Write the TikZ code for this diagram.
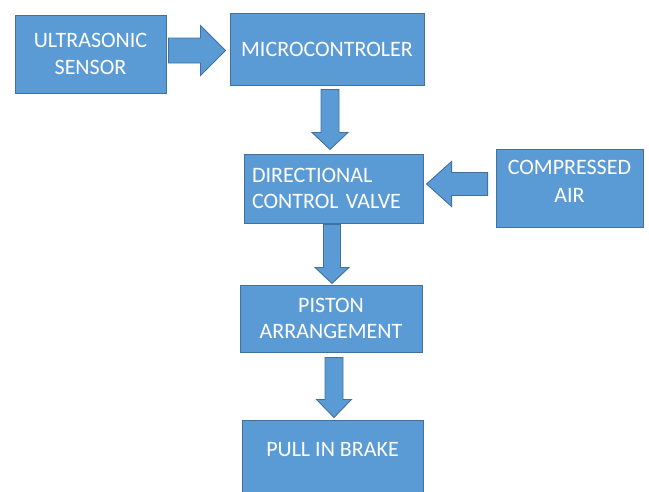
\documentclass[tikz,border=0pt]{standalone}
\usepackage{fontspec}
\setmainfont{Carlito}
\usetikzlibrary{calc}
\definecolor{boxfill}{HTML}{5B9BD5}
\definecolor{boxline}{HTML}{41719C}
\tikzset{
  box/.style={draw=boxline, fill=boxfill, line width=0.9pt, text=white,
    font=\fontsize{22}{26.5}\selectfont, align=center, inner sep=0pt},
  txt/.style={text=white, font=\fontsize{22}{27.5}\selectfont, align=center, inner sep=0pt},
  blk/.style={draw=boxline, fill=boxfill, line width=0.9pt, line join=miter}
}
% #1 start coordinate, #2 angle, #3 length, #4 shaft half width, #5 head half width, #6 head length
\newcommand\blkarrow[6]{%
  \draw[blk, shift={(#1)}, rotate=#2]
    (0,-#4) -- (#3-#6,-#4) -- (#3-#6,-#5) -- (#3,0) -- (#3-#6,#5) -- (#3-#6,#4) -- (0,#4) -- cycle;}
\begin{document}
\begin{tikzpicture}[x=1pt,y=-1pt]
\useasboundingbox (0,0) rectangle (649,491);
\clip (0,0) rectangle (649,491);
\node[box, minimum width=151pt, minimum height=78pt] (us) at (90.5,54) {ULTRASONIC\\SENSOR};
\node[box, minimum width=194pt, minimum height=72pt] (mc) at (327,49) {MICROCONTROLER};
\node[box, minimum width=179pt, minimum height=69pt, text width=163pt, align=left] (dcv) at (333.5,188.5) {DIRECTIONAL\\CONTROL VALVE};
\node[box, minimum width=147pt, minimum height=78pt,
  label={[txt, yshift=6.5pt]center:{COMPRESSED\\AIR}}] (ca) at (569.5,188) {};
\node[box, minimum width=182pt, minimum height=67pt, yshift=-1.5pt] (pa) at (331,317) {PISTON\\ARRANGEMENT};
\node[box, minimum width=181pt, minimum height=110pt,
  label={[txt, yshift=-37pt]north:{PULL IN BRAKE}}] (pb) at (332.5,475) {};
% block arrows
\coordinate (a1s) at ($(us.east)+(2,-3.5)$);
\coordinate (a2s) at ($(mc.south)+(3,4)$);
\coordinate (a3s) at ($(ca.west)+(-8,-4)$);
\coordinate (a4s) at ($(dcv.south)+(-1.5,1)$);
\coordinate (a5s) at ($(pa.south)+(3,5)$);
\blkarrow{a1s}{0}{57}{12.5}{25}{25}
\blkarrow{a2s}{-90}{60}{9}{18}{17}
\blkarrow{a3s}{180}{61}{11.5}{22.5}{25}
\blkarrow{a4s}{-90}{59}{8.5}{17}{16}
\blkarrow{a5s}{-90}{60}{9}{17.5}{18}
\end{tikzpicture}
\end{document}
